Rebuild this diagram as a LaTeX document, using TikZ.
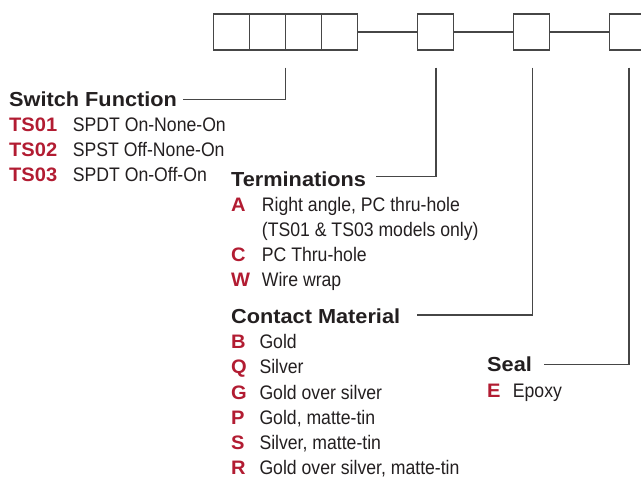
\documentclass[tikz,border=0pt]{standalone}
\usepackage{fontspec}
\setmainfont{Liberation Sans}
\newfontfamily\hdrfont{Liberation Sans}[FakeStretch=1.07]
\newfontfamily\codefont{Liberation Sans}[FakeStretch=1.03]
\newfontfamily\descfont{Liberation Sans}[FakeStretch=0.9]
\definecolor{codered}{RGB}{178,28,50}
\definecolor{ink}{RGB}{35,31,32}
\definecolor{linegray}{RGB}{70,70,70}
\begin{document}
\begin{tikzpicture}[x=1pt,y=1pt,
  cell/.style={draw=linegray,line width=1.2pt,minimum width=36pt,minimum height=36pt,inner sep=0pt,outer sep=0pt,anchor=north west},
  link/.style={draw=linegray,line width=1.2pt},
  leader/.style={draw=linegray,line width=1.1pt},
  hdr/.style={anchor=base west,inner sep=0pt,text=ink,font=\hdrfont\bfseries\fontsize{20.3}{24}\selectfont},
  code/.style={anchor=base west,inner sep=0pt,text=codered,font=\codefont\bfseries\fontsize{19.5}{23}\selectfont},
  desc/.style={anchor=base west,inner sep=0pt,text=ink,font=\descfont\fontsize{19.6}{23}\selectfont}]
\useasboundingbox (0,0) rectangle (641,-477);
% boxes
\node[cell] (b1) at (213.5,-14) {};
\node[cell] (b2) at (249.5,-14) {};
\node[cell] (b3) at (285.5,-14) {};
\node[cell] (b4) at (321.5,-14) {};
\node[cell] (b5) at (417.7,-14) {};
\node[cell] (b6) at (513.5,-14) {};
\node[cell] (b7) at (609.3,-14) {};
\draw[link] (b4.east) -- (b5.west);
\draw[link] (b5.east) -- (b6.west);
\draw[link] (b6.east) -- (b7.west);
% headers
\node[hdr] (hsf) at (9,-106.5) {Switch Function};
\node[hdr] (hterm) at (231,-186) {Terminations};
\node[hdr] (hcm) at (231,-323) {Contact Material};
\node[hdr] (hseal) at (487,-371.5) {Seal};
% leaders
\coordinate (t1) at (285.5,-67.7);
\coordinate (e1) at (182.7,-99.3);
\coordinate (t2) at (436,-67.7);
\coordinate (e2) at (376,-176.5);
\coordinate (t3) at (532.7,-67.7);
\coordinate (e3) at (417.3,-315);
\coordinate (t4) at (629,-67.7);
\coordinate (e4) at (544,-364.3);
\draw[leader] (t1) |- (e1);
\draw[leader] (t2) |- (e2);
\draw[leader] (t3) |- (e3);
\draw[leader] (t4) |- (e4);
% switch function
\node[code] (c11) at (9,-131.5) {TS01};
\node[desc] (d11) at (72.7,-131.5) {SPDT On-None-On};
\node[code] (c12) at (9,-156.5) {TS02};
\node[desc] (d12) at (72.7,-156.5) {SPST Off-None-On};
\node[code] (c13) at (9,-181.5) {TS03};
\node[desc] (d13) at (72.7,-181.5) {SPDT On-Off-On};
% terminations
\node[code] (c21) at (231,-211) {A};
\node[desc] (d21) at (261.7,-211) {Right angle, PC thru-hole};
\node[desc] (d21b) at (261.7,-236.5) {(TS01 \& TS03 models only)};
\node[code] (c22) at (231,-261.5) {C};
\node[desc] (d22) at (261.7,-261.5) {PC Thru-hole};
\node[code] (c23) at (231,-286.5) {W};
\node[desc] (d23) at (261.7,-286.5) {Wire wrap};
% contact material
\node[code] (c31) at (231,-348.5) {B};
\node[desc] (d31) at (259.3,-348.5) {Gold};
\node[code] (c32) at (231,-373.5) {Q};
\node[desc] (d32) at (259.3,-373.5) {Silver};
\node[code] (c33) at (231,-399) {G};
\node[desc] (d33) at (259.3,-399) {Gold over silver};
\node[code] (c34) at (231,-424) {P};
\node[desc] (d34) at (259.3,-424) {Gold, matte-tin};
\node[code] (c35) at (231,-449) {S};
\node[desc] (d35) at (259.3,-449) {Silver, matte-tin};
\node[code] (c36) at (231,-474) {R};
\node[desc] (d36) at (259.3,-474) {Gold over silver, matte-tin};
% seal
\node[code] (c41) at (487,-397.5) {E};
\node[desc] (d41) at (512.7,-397.5) {Epoxy};
\end{tikzpicture}
\end{document}
